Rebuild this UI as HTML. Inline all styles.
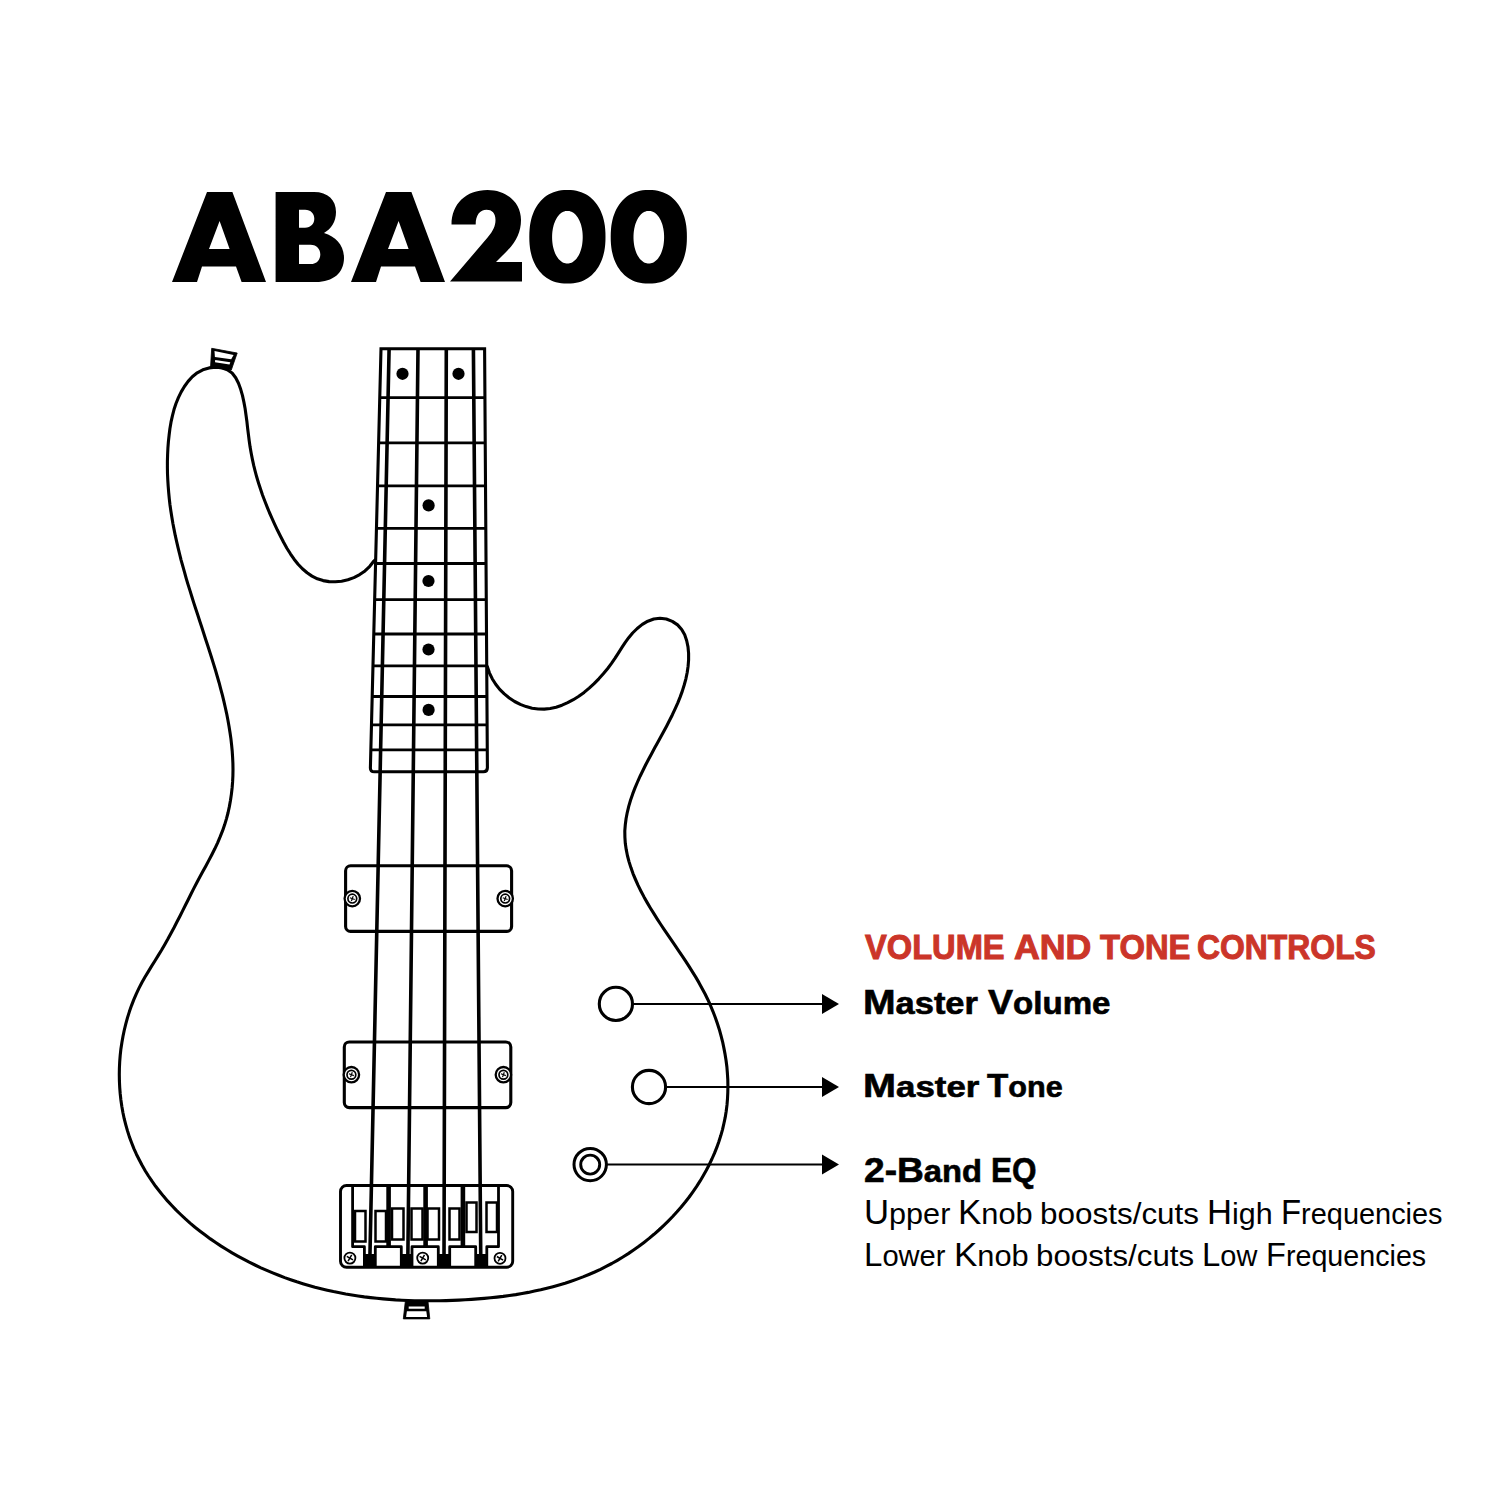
<!DOCTYPE html>
<html><head><meta charset="utf-8"><style>
html,body{margin:0;padding:0;background:#fff;}
body{width:1500px;height:1500px;position:relative;overflow:hidden;font-family:"Liberation Sans",sans-serif;}
svg{position:absolute;left:0;top:0;}
.t{position:absolute;white-space:nowrap;line-height:1;transform-origin:0 0;}
.h{color:#c8372d;font-weight:bold;font-size:34px;-webkit-text-stroke:0.6px #c8372d;}
.b{color:#000;font-weight:bold;font-size:34px;-webkit-text-stroke:0.6px #000;}
.r{color:#000;font-size:33px;}
</style></head><body>
<svg width="1500" height="1500" viewBox="0 0 1500 1500">
<path fill="#000" fill-rule="evenodd" d="M172,282 L207,192 L232.4,192 L266,282 L241.6,282 L236,266.4 L202,266.4 L197,282 Z M209,249 L229.6,249 L219.6,221 Z"/>
<path fill="#000" fill-rule="evenodd" transform="translate(179,0)" d="M172,282 L207,192 L232.4,192 L266,282 L241.6,282 L236,266.4 L202,266.4 L197,282 Z M209,249 L229.6,249 L219.6,221 Z"/>
<path fill="#000" fill-rule="evenodd" d="M275.6,192 H314 C328,192 336,200 336,212 C336,222 331,229 324,233 C336,237 344,245 344,258 C344,273 333,282 316,282 H275.6 Z M299,209.8 H305 C311,209.8 314.3,214 314.3,218.8 C314.3,223.6 311,227.7 305,227.7 H299 Z M299,244.8 H310.5 C317,244.8 320.3,249.5 320.3,254.5 C320.3,259.5 317,264.1 310.5,264.1 H299 Z"/>
<path fill="#000" fill-rule="evenodd" d="M451.5,224.5 C451.5,204 466,190 487.5,190 C507,190 521,203 521,220 C521,232 516,242 507,251 L496,262 H522 V281.6 H450 L488,237 C493,231 495.5,226 495.5,220 C495.5,213 492,209.8 486.5,209.8 C480,209.8 475.7,215 475.7,224.5 Z"/>
<path fill="#000" fill-rule="evenodd" d="M605.50,236.80 L605.43,240.94 L605.21,244.46 L604.85,247.75 L604.34,250.88 L603.70,253.87 L602.91,256.73 L601.99,259.46 L600.93,262.07 L599.74,264.56 L598.41,266.91 L596.97,269.12 L595.40,271.19 L593.71,273.12 L591.91,274.90 L590.00,276.52 L587.98,277.98 L585.85,279.28 L583.62,280.42 L581.29,281.39 L578.86,282.18 L576.31,282.80 L573.64,283.24 L570.77,283.51 L567.40,283.60 L564.03,283.51 L561.16,283.24 L558.49,282.80 L555.94,282.18 L553.51,281.39 L551.18,280.42 L548.95,279.28 L546.82,277.98 L544.80,276.52 L542.89,274.90 L541.09,273.12 L539.40,271.19 L537.83,269.12 L536.39,266.91 L535.06,264.56 L533.87,262.07 L532.81,259.46 L531.89,256.73 L531.10,253.87 L530.46,250.88 L529.95,247.75 L529.59,244.46 L529.37,240.94 L529.30,236.80 L529.37,232.66 L529.59,229.14 L529.95,225.85 L530.46,222.72 L531.10,219.73 L531.89,216.87 L532.81,214.14 L533.87,211.53 L535.06,209.04 L536.39,206.69 L537.83,204.48 L539.40,202.41 L541.09,200.48 L542.89,198.70 L544.80,197.08 L546.82,195.62 L548.95,194.32 L551.18,193.18 L553.51,192.21 L555.94,191.42 L558.49,190.80 L561.16,190.36 L564.03,190.09 L567.40,190.00 L570.77,190.09 L573.64,190.36 L576.31,190.80 L578.86,191.42 L581.29,192.21 L583.62,193.18 L585.85,194.32 L587.98,195.62 L590.00,197.08 L591.91,198.70 L593.71,200.48 L595.40,202.41 L596.97,204.48 L598.41,206.69 L599.74,209.04 L600.93,211.53 L601.99,214.14 L602.91,216.87 L603.70,219.73 L604.34,222.72 L604.85,225.85 L605.21,229.14 L605.43,232.66 Z M582.70,237.20 L582.67,239.04 L582.57,240.81 L582.41,242.54 L582.19,244.24 L581.91,245.89 L581.56,247.50 L581.16,249.07 L580.70,250.57 L580.18,252.02 L579.61,253.41 L578.98,254.72 L578.31,255.95 L577.59,257.11 L576.83,258.18 L576.02,259.17 L575.18,260.06 L574.30,260.85 L573.39,261.54 L572.46,262.14 L571.49,262.63 L570.51,263.01 L569.50,263.28 L568.47,263.45 L567.40,263.50 L566.33,263.45 L565.30,263.28 L564.29,263.01 L563.31,262.63 L562.34,262.14 L561.41,261.54 L560.50,260.85 L559.62,260.06 L558.78,259.17 L557.97,258.18 L557.21,257.11 L556.49,255.95 L555.82,254.72 L555.19,253.41 L554.62,252.02 L554.10,250.57 L553.64,249.07 L553.24,247.50 L552.89,245.89 L552.61,244.24 L552.39,242.54 L552.23,240.81 L552.13,239.04 L552.10,237.20 L552.13,235.36 L552.23,233.59 L552.39,231.86 L552.61,230.16 L552.89,228.51 L553.24,226.90 L553.64,225.33 L554.10,223.83 L554.62,222.38 L555.19,220.99 L555.82,219.68 L556.49,218.45 L557.21,217.29 L557.97,216.22 L558.78,215.23 L559.62,214.34 L560.50,213.55 L561.41,212.86 L562.34,212.26 L563.31,211.77 L564.29,211.39 L565.30,211.12 L566.33,210.95 L567.40,210.90 L568.47,210.95 L569.50,211.12 L570.51,211.39 L571.49,211.77 L572.46,212.26 L573.39,212.86 L574.30,213.55 L575.18,214.34 L576.02,215.23 L576.83,216.22 L577.59,217.29 L578.31,218.45 L578.98,219.68 L579.61,220.99 L580.18,222.38 L580.70,223.83 L581.16,225.33 L581.56,226.90 L581.91,228.51 L582.19,230.16 L582.41,231.86 L582.57,233.59 L582.67,235.36 Z"/>
<path fill="#000" fill-rule="evenodd" d="M686.90,236.80 L686.83,240.94 L686.61,244.46 L686.25,247.75 L685.74,250.88 L685.10,253.87 L684.31,256.73 L683.39,259.46 L682.33,262.07 L681.14,264.56 L679.81,266.91 L678.37,269.12 L676.80,271.19 L675.11,273.12 L673.31,274.90 L671.40,276.52 L669.38,277.98 L667.25,279.28 L665.02,280.42 L662.69,281.39 L660.26,282.18 L657.71,282.80 L655.04,283.24 L652.17,283.51 L648.80,283.60 L645.43,283.51 L642.56,283.24 L639.89,282.80 L637.34,282.18 L634.91,281.39 L632.58,280.42 L630.35,279.28 L628.22,277.98 L626.20,276.52 L624.29,274.90 L622.49,273.12 L620.80,271.19 L619.23,269.12 L617.79,266.91 L616.46,264.56 L615.27,262.07 L614.21,259.46 L613.29,256.73 L612.50,253.87 L611.86,250.88 L611.35,247.75 L610.99,244.46 L610.77,240.94 L610.70,236.80 L610.77,232.66 L610.99,229.14 L611.35,225.85 L611.86,222.72 L612.50,219.73 L613.29,216.87 L614.21,214.14 L615.27,211.53 L616.46,209.04 L617.79,206.69 L619.23,204.48 L620.80,202.41 L622.49,200.48 L624.29,198.70 L626.20,197.08 L628.22,195.62 L630.35,194.32 L632.58,193.18 L634.91,192.21 L637.34,191.42 L639.89,190.80 L642.56,190.36 L645.43,190.09 L648.80,190.00 L652.17,190.09 L655.04,190.36 L657.71,190.80 L660.26,191.42 L662.69,192.21 L665.02,193.18 L667.25,194.32 L669.38,195.62 L671.40,197.08 L673.31,198.70 L675.11,200.48 L676.80,202.41 L678.37,204.48 L679.81,206.69 L681.14,209.04 L682.33,211.53 L683.39,214.14 L684.31,216.87 L685.10,219.73 L685.74,222.72 L686.25,225.85 L686.61,229.14 L686.83,232.66 Z M664.10,237.20 L664.07,239.04 L663.97,240.81 L663.81,242.54 L663.59,244.24 L663.31,245.89 L662.96,247.50 L662.56,249.07 L662.10,250.57 L661.58,252.02 L661.01,253.41 L660.38,254.72 L659.71,255.95 L658.99,257.11 L658.23,258.18 L657.42,259.17 L656.58,260.06 L655.70,260.85 L654.79,261.54 L653.86,262.14 L652.89,262.63 L651.91,263.01 L650.90,263.28 L649.87,263.45 L648.80,263.50 L647.73,263.45 L646.70,263.28 L645.69,263.01 L644.71,262.63 L643.74,262.14 L642.81,261.54 L641.90,260.85 L641.02,260.06 L640.18,259.17 L639.37,258.18 L638.61,257.11 L637.89,255.95 L637.22,254.72 L636.59,253.41 L636.02,252.02 L635.50,250.57 L635.04,249.07 L634.64,247.50 L634.29,245.89 L634.01,244.24 L633.79,242.54 L633.63,240.81 L633.53,239.04 L633.50,237.20 L633.53,235.36 L633.63,233.59 L633.79,231.86 L634.01,230.16 L634.29,228.51 L634.64,226.90 L635.04,225.33 L635.50,223.83 L636.02,222.38 L636.59,220.99 L637.22,219.68 L637.89,218.45 L638.61,217.29 L639.37,216.22 L640.18,215.23 L641.02,214.34 L641.90,213.55 L642.81,212.86 L643.74,212.26 L644.71,211.77 L645.69,211.39 L646.70,211.12 L647.73,210.95 L648.80,210.90 L649.87,210.95 L650.90,211.12 L651.91,211.39 L652.89,211.77 L653.86,212.26 L654.79,212.86 L655.70,213.55 L656.58,214.34 L657.42,215.23 L658.23,216.22 L658.99,217.29 L659.71,218.45 L660.38,219.68 L661.01,220.99 L661.58,222.38 L662.10,223.83 L662.56,225.33 L662.96,226.90 L663.31,228.51 L663.59,230.16 L663.81,231.86 L663.97,233.59 L664.07,235.36 Z"/>
<path d="M383,554.3 L373.9,561.0 L369.8,566.3 L365.0,570.9 L359.7,574.6 L353.9,577.6 L347.9,579.8 L341.6,581.2 L335.3,581.8 L329.1,581.6 L323.1,580.6 L317.4,578.8 L312.0,576.1 L307.1,572.8 L302.4,568.8 L298.1,564.2 L294.1,559.2 L290.4,553.8 L286.9,548.2 L283.6,542.3 L280.5,536.3 L277.5,530.3 L274.7,524.3 L272.0,518.4 L269.4,512.5 L267.0,506.7 L264.7,500.8 L262.5,495.0 L260.5,489.1 L258.6,483.2 L256.8,477.3 L255.2,471.4 L253.7,465.4 L252.4,459.4 L251.2,453.3 L250.1,447.1 L249.2,440.8 L248.4,434.4 L247.6,428.0 L246.9,421.5 L246.0,415.0 L245.1,408.5 L243.9,402.1 L242.5,395.7 L240.7,389.3 L238.5,383.2 L235.7,377.7 L232.1,373.0 L227.3,369.7 L221.7,367.8 L215.5,367.2 L209.1,367.9 L202.8,369.8 L197.2,372.8 L192.3,376.7 L188.1,381.4 L184.4,386.5 L181.2,391.9 L178.4,397.6 L176.0,403.5 L174.0,409.6 L172.4,415.8 L171.0,422.2 L169.9,428.7 L169.1,435.2 L168.4,441.7 L167.9,448.2 L167.6,454.7 L167.4,461.1 L167.4,467.4 L167.5,473.8 L167.8,480.1 L168.2,486.4 L168.7,492.6 L169.3,498.8 L170.0,505.0 L170.9,511.2 L171.9,517.4 L172.9,523.5 L174.1,529.6 L175.3,535.7 L176.7,541.8 L178.1,547.9 L179.6,554.0 L181.1,560.1 L182.8,566.2 L184.5,572.2 L186.2,578.3 L188.0,584.4 L189.9,590.4 L191.8,596.5 L193.7,602.6 L195.7,608.7 L197.7,614.8 L199.7,621.0 L201.7,627.1 L203.7,633.2 L205.7,639.4 L207.7,645.6 L209.7,651.7 L211.7,657.9 L213.6,664.1 L215.5,670.3 L217.3,676.5 L219.1,682.7 L220.7,688.9 L222.4,695.1 L223.9,701.3 L225.3,707.5 L226.7,713.8 L227.9,720.0 L229.0,726.2 L230.0,732.4 L230.9,738.6 L231.6,744.8 L232.2,751.0 L232.6,757.2 L232.9,763.4 L233.0,769.5 L232.9,775.7 L232.6,781.9 L232.1,788.0 L231.4,794.1 L230.5,800.3 L229.4,806.4 L228.1,812.5 L226.5,818.6 L224.7,824.6 L222.6,830.7 L220.2,836.7 L217.6,842.8 L214.8,848.8 L211.8,854.7 L208.7,860.6 L205.6,866.4 L202.5,872.1 L199.4,877.7 L196.5,883.2 L193.7,888.6 L191.0,894.0 L188.3,899.5 L185.5,905.0 L182.7,910.6 L179.9,916.2 L177.0,921.8 L174.1,927.5 L171.0,933.2 L168.0,938.8 L164.8,944.4 L161.6,950.0 L158.3,955.4 L155.0,960.8 L151.6,966.2 L148.3,971.6 L145.0,977.0 L141.9,982.5 L139.0,988.1 L136.3,993.8 L133.8,999.6 L131.5,1005.6 L129.4,1011.6 L127.5,1017.6 L125.8,1023.8 L124.3,1030.0 L123.0,1036.3 L121.9,1042.6 L120.9,1048.9 L120.2,1055.3 L119.7,1061.7 L119.4,1068.1 L119.3,1074.5 L119.4,1080.9 L119.7,1087.3 L120.2,1093.7 L120.9,1100.0 L121.8,1106.3 L122.9,1112.5 L124.2,1118.7 L125.8,1124.8 L127.5,1130.9 L129.4,1136.9 L131.6,1142.8 L133.9,1148.6 L136.4,1154.2 L139.2,1159.8 L142.1,1165.3 L145.2,1170.7 L148.5,1176.0 L152.0,1181.2 L155.6,1186.3 L159.5,1191.2 L163.4,1196.1 L167.5,1200.9 L171.8,1205.5 L176.2,1210.1 L180.7,1214.5 L185.4,1218.9 L190.1,1223.1 L195.0,1227.2 L200.1,1231.2 L205.2,1235.1 L210.4,1238.9 L215.7,1242.5 L221.1,1246.1 L226.6,1249.5 L232.1,1252.9 L237.8,1256.1 L243.5,1259.2 L249.2,1262.2 L255.0,1265.0 L260.9,1267.8 L266.8,1270.4 L272.7,1272.9 L278.7,1275.3 L284.7,1277.6 L290.7,1279.7 L296.8,1281.8 L302.8,1283.7 L308.9,1285.5 L315.0,1287.2 L321.1,1288.7 L327.3,1290.2 L333.4,1291.6 L339.6,1292.8 L345.7,1294.0 L351.9,1295.0 L358.1,1296.0 L364.3,1296.9 L370.6,1297.6 L376.8,1298.3 L383.1,1298.9 L389.3,1299.4 L395.6,1299.9 L401.9,1300.2 L408.2,1300.5 L414.5,1300.7 L420.8,1300.8 L427.1,1300.8 L433.4,1300.8 L439.8,1300.7 L446.1,1300.6 L452.4,1300.4 L458.8,1300.1 L465.1,1299.8 L471.5,1299.4 L477.8,1298.9 L484.2,1298.4 L490.5,1297.8 L496.9,1297.1 L503.2,1296.4 L509.5,1295.5 L515.8,1294.6 L522.1,1293.5 L528.3,1292.4 L534.5,1291.1 L540.7,1289.8 L546.9,1288.3 L553.0,1286.7 L559.1,1285.0 L565.1,1283.2 L571.1,1281.2 L577.1,1279.1 L583.0,1276.9 L588.9,1274.5 L594.7,1272.0 L600.5,1269.3 L606.2,1266.4 L611.8,1263.5 L617.4,1260.3 L622.9,1257.0 L628.3,1253.6 L633.6,1250.0 L638.9,1246.3 L644.0,1242.4 L649.1,1238.4 L654.0,1234.3 L658.9,1230.0 L663.6,1225.6 L668.2,1221.1 L672.7,1216.5 L677.0,1211.8 L681.2,1207.0 L685.3,1202.0 L689.2,1197.0 L692.9,1191.8 L696.5,1186.6 L700.0,1181.2 L703.2,1175.8 L706.3,1170.3 L709.2,1164.7 L711.9,1159.0 L714.4,1153.3 L716.8,1147.4 L718.9,1141.5 L720.8,1135.6 L722.5,1129.6 L723.9,1123.5 L725.2,1117.4 L726.2,1111.2 L727.0,1104.9 L727.5,1098.7 L727.8,1092.4 L727.9,1086.0 L727.8,1079.7 L727.4,1073.4 L726.9,1067.0 L726.1,1060.7 L725.1,1054.4 L723.9,1048.1 L722.6,1041.8 L721.0,1035.6 L719.3,1029.4 L717.3,1023.3 L715.2,1017.3 L712.9,1011.3 L710.5,1005.5 L707.9,999.7 L705.1,994.0 L702.1,988.4 L699.1,982.9 L695.9,977.4 L692.6,972.1 L689.2,966.7 L685.8,961.4 L682.3,956.2 L678.7,950.9 L675.2,945.7 L671.6,940.4 L668.0,935.1 L664.4,929.8 L660.8,924.5 L657.3,919.1 L653.9,913.7 L650.5,908.2 L647.2,902.6 L644.0,896.9 L641.0,891.2 L638.1,885.4 L635.5,879.5 L633.0,873.6 L630.9,867.6 L629.0,861.6 L627.4,855.5 L626.2,849.4 L625.3,843.3 L624.9,837.1 L624.8,830.9 L625.3,824.7 L626.1,818.5 L627.3,812.3 L628.8,806.1 L630.6,800.0 L632.7,793.9 L635.0,787.9 L637.5,782.0 L640.1,776.2 L642.9,770.5 L645.7,764.8 L648.6,759.2 L651.6,753.7 L654.6,748.1 L657.7,742.6 L660.7,737.1 L663.7,731.5 L666.7,725.9 L669.6,720.3 L672.4,714.7 L675.1,708.9 L677.7,703.1 L680.1,697.1 L682.3,691.1 L684.2,685.0 L685.9,678.8 L687.2,672.5 L688.1,666.2 L688.6,659.8 L688.6,653.4 L688.0,646.9 L686.7,640.7 L684.7,634.8 L681.7,629.5 L677.6,624.9 L672.3,621.4 L666.3,619.0 L660.0,618.2 L653.8,619.0 L647.8,621.2 L642.3,624.4 L637.2,628.5 L632.6,633.0 L628.7,637.7 L625.1,642.7 L621.8,647.7 L618.5,652.9 L615.1,658.2 L611.5,663.4 L607.5,668.7 L603.3,673.8 L598.8,678.8 L594.1,683.6 L589.2,688.1 L584.1,692.4 L578.8,696.3 L573.3,699.7 L567.7,702.7 L562.0,705.2 L556.1,707.2 L550.2,708.5 L544.2,709.1 L538.2,709.0 L532.1,708.2 L526.1,706.6 L520.3,704.4 L514.6,701.5 L509.3,698.0 L504.3,693.9 L499.7,689.4 L495.7,684.3 L492.2,678.7 L489.4,672.8 L487.3,666.5 L481.5,658" fill="none" stroke="#000" stroke-width="3.1" stroke-linejoin="round"/>
<path d="M211.7,348.3 L237.2,353 L231.3,370 L210.5,367.5 Z" fill="#000" stroke="#000" stroke-width="0.8" stroke-linejoin="round"/>
<path d="M214.5,351 L233.6,354.9 L231.2,359.2 L214.9,356.9 Z M215.2,359.9 L230.3,362.3 L229.5,364.5 L215.0,362.2 Z" fill="#fff"/>
<path d="M405.3,1301.5 H428 L429.8,1318.9 H403.3 Z" fill="#000" stroke="#000" stroke-width="0.8" stroke-linejoin="round"/>
<path d="M408.7,1306.6 H424.7 V1308.7 H408.7 Z M406.9,1311.3 H426.3 L427.1,1317.1 H406.1 Z" fill="#fff"/>
<path d="M381.0,348.7 L484.6,348.7 L487.4,767.8 Q487.4,771.8 483.4,771.8 L374.3,771.8 Q370.3,771.8 370.4,767.8 Z" fill="#fff" stroke="#000" stroke-width="3.1" stroke-linejoin="miter"/>
<path d="M379.8,397.7 H484.9 M378.6,442.9 H485.2 M377.5,485.8 H485.5 M376.5,528.3 H485.8 M375.6,563.5 H486.0 M374.7,599.7 H486.3 M373.8,634.0 H486.5 M373.0,665.9 H486.7 M372.2,696.5 H486.9 M371.5,724.9 H487.1 M370.9,749.9 H487.3" fill="none" stroke="#000" stroke-width="2.8"/>
<circle cx="402.5" cy="373.8" r="6.1" fill="#000"/>
<circle cx="458.5" cy="373.8" r="6.1" fill="#000"/>
<circle cx="428.6" cy="505.4" r="6.1" fill="#000"/>
<circle cx="428.5" cy="581.0" r="6.1" fill="#000"/>
<circle cx="428.5" cy="649.5" r="6.1" fill="#000"/>
<circle cx="428.6" cy="709.9" r="6.1" fill="#000"/>
<rect x="345.6" y="865.8" width="166" height="65.6" rx="5" fill="none" stroke="#000" stroke-width="3.1"/>
<rect x="344.3" y="1042" width="166.5" height="65.6" rx="5" fill="none" stroke="#000" stroke-width="3.1"/>
<rect x="340.5" y="1185.5" width="172.2" height="81.7" rx="6" fill="#fff" stroke="#000" stroke-width="2.9"/>
<path d="M352.6,1185.5 V1246.7 H364.4 V1267 M375.3,1267 V1246.7 H401.3 V1267 M412.0,1267 V1246.7 H438.3 V1267 M449.7,1267 V1246.7 H475.7 V1267 M486.8,1267 V1246.7 H498.5 V1185.5" fill="none" stroke="#000" stroke-width="2.8" stroke-linejoin="round"/>
<path d="M388.6,1185.5 V1246.7 M425.6,1185.5 V1246.7 M462.9,1185.5 V1246.7" stroke="#000" stroke-width="4.6"/>
<rect x="355.0" y="1211.0" width="10.5" height="30.5" fill="#fff" stroke="#000" stroke-width="2.5"/>
<rect x="375.5" y="1211.0" width="10.5" height="30.5" fill="#fff" stroke="#000" stroke-width="2.5"/>
<rect x="392.0" y="1208.5" width="11.5" height="31.0" fill="#fff" stroke="#000" stroke-width="2.5"/>
<rect x="411.5" y="1208.5" width="11.0" height="31.0" fill="#fff" stroke="#000" stroke-width="2.5"/>
<rect x="427.5" y="1208.5" width="11.5" height="31.0" fill="#fff" stroke="#000" stroke-width="2.5"/>
<rect x="449.5" y="1208.5" width="10.0" height="31.0" fill="#fff" stroke="#000" stroke-width="2.5"/>
<rect x="466.5" y="1202.5" width="10.0" height="29.5" fill="#fff" stroke="#000" stroke-width="2.5"/>
<rect x="486.5" y="1202.5" width="10.5" height="29.5" fill="#fff" stroke="#000" stroke-width="2.5"/>
<rect x="364.2" y="1254" width="11.3" height="13" fill="#000"/>
<rect x="401.1" y="1254" width="11.1" height="13" fill="#000"/>
<rect x="438.1" y="1254" width="11.8" height="13" fill="#000"/>
<rect x="475.5" y="1254" width="11.5" height="13" fill="#000"/>
<path d="M389.1,348.7 L369.8,1262.0 M418.0,348.7 L407.8,1262.0 M446.3,348.7 L444.0,1262.0 M473.4,348.7 L480.8,1262.0" stroke="#000" stroke-width="3.6"/>
<circle cx="352.3" cy="898.6" r="7.7" fill="#fff" stroke="#000" stroke-width="2.3"/><circle cx="352.3" cy="898.6" r="4.4" fill="none" stroke="#000" stroke-width="1.7"/><path d="M349.86,897.71 L354.74,899.49 M353.19,896.16 L351.41,901.04 " stroke="#000" stroke-width="1.20"/>
<circle cx="505.2" cy="898.6" r="7.7" fill="#fff" stroke="#000" stroke-width="2.3"/><circle cx="505.2" cy="898.6" r="4.4" fill="none" stroke="#000" stroke-width="1.7"/><path d="M502.76,897.71 L507.64,899.49 M506.09,896.16 L504.31,901.04 " stroke="#000" stroke-width="1.20"/>
<circle cx="351.4" cy="1074.7" r="7.7" fill="#fff" stroke="#000" stroke-width="2.3"/><circle cx="351.4" cy="1074.7" r="4.4" fill="none" stroke="#000" stroke-width="1.7"/><path d="M348.96,1073.81 L353.84,1075.59 M352.29,1072.26 L350.51,1077.14 " stroke="#000" stroke-width="1.20"/>
<circle cx="503.4" cy="1074.7" r="7.7" fill="#fff" stroke="#000" stroke-width="2.3"/><circle cx="503.4" cy="1074.7" r="4.4" fill="none" stroke="#000" stroke-width="1.7"/><path d="M500.96,1073.81 L505.84,1075.59 M504.29,1072.26 L502.51,1077.14 " stroke="#000" stroke-width="1.20"/>
<circle cx="349.9" cy="1258.1" r="5.5" fill="#fff" stroke="#000" stroke-width="1.8"/><path d="M346.78,1256.30 L353.02,1259.90 M351.70,1254.98 L348.10,1261.22 " stroke="#000" stroke-width="1.50"/>
<circle cx="422.7" cy="1258.1" r="5.5" fill="#fff" stroke="#000" stroke-width="1.8"/><path d="M419.58,1256.30 L425.82,1259.90 M424.50,1254.98 L420.90,1261.22 " stroke="#000" stroke-width="1.50"/>
<circle cx="500.0" cy="1258.3" r="5.5" fill="#fff" stroke="#000" stroke-width="1.8"/><path d="M496.88,1256.50 L503.12,1260.10 M501.80,1255.18 L498.20,1261.42 " stroke="#000" stroke-width="1.50"/>
<circle cx="615.9" cy="1003.9" r="16.6" fill="none" stroke="#000" stroke-width="3.1"/>
<circle cx="649" cy="1087" r="16.6" fill="none" stroke="#000" stroke-width="3.1"/>
<circle cx="590.2" cy="1164.6" r="16.2" fill="none" stroke="#000" stroke-width="3.0"/>
<circle cx="590.2" cy="1164.6" r="9.5" fill="none" stroke="#000" stroke-width="2.9"/>
<path d="M632.6,1004.0 H823" stroke="#000" stroke-width="2.15"/>
<path d="M822,994.0 L839,1004.0 L822,1014.0 Z" fill="#000"/>
<path d="M665.7,1087.0 H823" stroke="#000" stroke-width="2.15"/>
<path d="M822,1077.0 L839,1087.0 L822,1097.0 Z" fill="#000"/>
<path d="M606.7,1164.5 H823" stroke="#000" stroke-width="2.15"/>
<path d="M822,1154.5 L839,1164.5 L822,1174.5 Z" fill="#000"/>
</svg>
<div style="position:absolute;white-space:nowrap;line-height:1;transform-origin:0 0;left:864.80px;top:929.47px;font-size:34px;color:#cb3529;font-weight:bold;-webkit-text-stroke:1.0px #cb3529;transform:scale(0.9597,1.0181)">VOLUME</div>
<div style="position:absolute;white-space:nowrap;line-height:1;transform-origin:0 0;left:1013.75px;top:929.47px;font-size:34px;color:#cb3529;font-weight:bold;-webkit-text-stroke:1.0px #cb3529;transform:scale(1.0507,1.0181)">AND</div>
<div style="position:absolute;white-space:nowrap;line-height:1;transform-origin:0 0;left:1099.60px;top:929.47px;font-size:34px;color:#cb3529;font-weight:bold;-webkit-text-stroke:1.0px #cb3529;transform:scale(0.9635,1.0181)">TONE</div>
<div style="position:absolute;white-space:nowrap;line-height:1;transform-origin:0 0;left:1197.46px;top:929.47px;font-size:34px;color:#cb3529;font-weight:bold;-webkit-text-stroke:1.0px #cb3529;transform:scale(0.9376,1.0181)">CONTROLS</div>
<div style="position:absolute;white-space:nowrap;line-height:1;transform-origin:0 0;left:862.70px;top:983.87px;font-size:34px;color:#000;font-weight:bold;-webkit-text-stroke:0.6px #000;transform:scale(1.1511,1.0181)">M<span style="font-size:29.92px">aster</span></div>
<div style="position:absolute;white-space:nowrap;line-height:1;transform-origin:0 0;left:988.20px;top:983.87px;font-size:34px;color:#000;font-weight:bold;-webkit-text-stroke:0.6px #000;transform:scale(1.1055,1.0181)">V<span style="font-size:29.92px">olume</span></div>
<div style="position:absolute;white-space:nowrap;line-height:1;transform-origin:0 0;left:862.67px;top:1068.40px;font-size:34px;color:#000;font-weight:bold;-webkit-text-stroke:0.6px #000;transform:scale(1.1653,1.0000)">M<span style="font-size:29.92px">aster</span></div>
<div style="position:absolute;white-space:nowrap;line-height:1;transform-origin:0 0;left:987.40px;top:1068.40px;font-size:34px;color:#000;font-weight:bold;-webkit-text-stroke:0.6px #000;transform:scale(1.0247,1.0000)">T<span style="font-size:29.92px">one</span></div>
<div style="position:absolute;white-space:nowrap;line-height:1;transform-origin:0 0;left:863.71px;top:1151.74px;font-size:34px;color:#000;font-weight:bold;-webkit-text-stroke:0.6px #000;transform:scale(1.0925,1.0435)">2-B<span style="font-size:29.92px">and</span></div>
<div style="position:absolute;white-space:nowrap;line-height:1;transform-origin:0 0;left:991.35px;top:1151.74px;font-size:34px;color:#000;font-weight:bold;-webkit-text-stroke:0.6px #000;transform:scale(0.9263,1.0435)">EQ</div>
<div style="position:absolute;white-space:nowrap;line-height:1;transform-origin:0 0;left:863.64px;top:1194.81px;font-size:33px;color:#000;font-weight:normal;transform:scale(1.0532,1.0354)">U<span style="font-size:29.04px">pper</span></div>
<div style="position:absolute;white-space:nowrap;line-height:1;transform-origin:0 0;left:957.82px;top:1194.81px;font-size:33px;color:#000;font-weight:normal;transform:scale(1.0606,1.0354)">K<span style="font-size:29.04px">nob</span></div>
<div style="position:absolute;white-space:nowrap;line-height:1;transform-origin:0 0;left:1039.83px;top:1194.81px;font-size:33px;color:#000;font-weight:normal;transform:scale(1.0833,1.0354)"><span style="font-size:29.04px">boosts/cuts</span></div>
<div style="position:absolute;white-space:nowrap;line-height:1;transform-origin:0 0;left:1207.26px;top:1194.81px;font-size:33px;color:#000;font-weight:normal;transform:scale(1.0484,1.0354)">H<span style="font-size:29.04px">igh</span></div>
<div style="position:absolute;white-space:nowrap;line-height:1;transform-origin:0 0;left:1281.01px;top:1194.81px;font-size:33px;color:#000;font-weight:normal;transform:scale(0.9962,1.0354)">F<span style="font-size:29.04px">requencies</span></div>
<div style="position:absolute;white-space:nowrap;line-height:1;transform-origin:0 0;left:863.79px;top:1237.05px;font-size:33px;color:#000;font-weight:normal;transform:scale(1.0026,1.0268)">L<span style="font-size:29.04px">ower</span></div>
<div style="position:absolute;white-space:nowrap;line-height:1;transform-origin:0 0;left:953.82px;top:1237.05px;font-size:33px;color:#000;font-weight:normal;transform:scale(1.0606,1.0268)">K<span style="font-size:29.04px">nob</span></div>
<div style="position:absolute;white-space:nowrap;line-height:1;transform-origin:0 0;left:1035.85px;top:1237.05px;font-size:33px;color:#000;font-weight:normal;transform:scale(1.0764,1.0268)"><span style="font-size:29.04px">boosts/cuts</span></div>
<div style="position:absolute;white-space:nowrap;line-height:1;transform-origin:0 0;left:1201.81px;top:1237.05px;font-size:33px;color:#000;font-weight:normal;transform:scale(0.9963,1.0268)">L<span style="font-size:29.04px">ow</span></div>
<div style="position:absolute;white-space:nowrap;line-height:1;transform-origin:0 0;left:1266.44px;top:1237.05px;font-size:33px;color:#000;font-weight:normal;transform:scale(0.9874,1.0268)">F<span style="font-size:29.04px">requencies</span></div>
</body></html>
